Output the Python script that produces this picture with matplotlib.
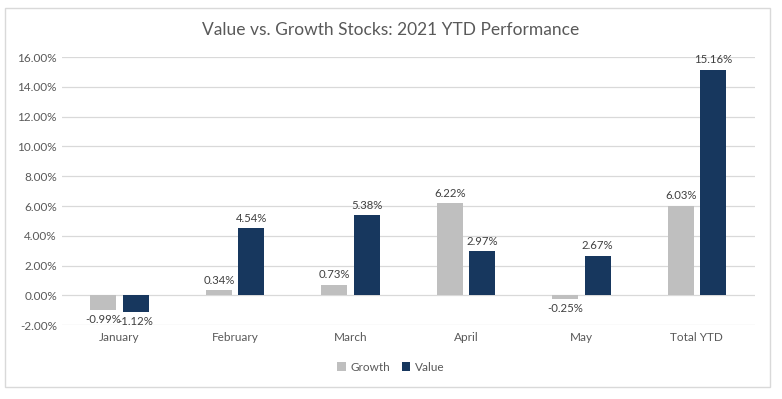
import numpy as np
import matplotlib
matplotlib.use("Agg")
import matplotlib.pyplot as plt
from matplotlib.patches import Rectangle
from matplotlib.ticker import FuncFormatter

# chart data
months = ["January", "February", "March", "April", "May", "Total YTD"]
growth = [-0.99, 0.34, 0.73, 6.22, -0.25, 6.03]
value = [-1.12, 4.54, 5.38, 2.97, 2.67, 15.16]
yticks = [-2, 0, 2, 4, 6, 8, 10, 12, 14, 16]

plt.rcParams['font.family'] = ['Lato', 'DejaVu Sans']
txt = '#595959'

fig = plt.figure(figsize=(7.82, 3.99), dpi=100)
ax = fig.add_axes([0.079, 0.185, 0.886, 0.672])

x = np.arange(len(months))
w = 0.225
b1 = ax.bar(x - 0.14, growth, w, color='#BFBFBF', label='Growth', zorder=3)
b2 = ax.bar(x + 0.14, value, w, color='#17375E', label='Value', zorder=3)

for bars in (b1, b2):
    for r in bars:
        h = r.get_height()
        cx = r.get_x() + r.get_width() / 2
        if h >= 0:
            ax.annotate('%.2f%%' % h, (cx, h), xytext=(0, 3), textcoords='offset points',
                        ha='center', va='bottom', fontsize=8.2, color='#404040')
        else:
            ax.annotate('%.2f%%' % h, (cx, h), xytext=(0, -3), textcoords='offset points',
                        ha='center', va='top', fontsize=8.2, color='#404040')

ax.set_ylim(-2, 16)
ax.set_xlim(-0.5, len(months) - 0.5)
ax.set_yticks(yticks)
ax.yaxis.set_major_formatter(FuncFormatter(lambda v, p: '%.2f%%' % v))
ax.set_xticks(x)
ax.set_xticklabels(months)
ax.tick_params(axis='both', length=0, labelsize=8.5, colors=txt)
ax.tick_params(axis='x', pad=5)
ax.grid(axis='y', color='#D9D9D9', linewidth=0.9, zorder=0)
for s in ax.spines.values():
    s.set_visible(False)

fig.text(0.5, 0.925, 'Value vs. Growth Stocks: 2021 YTD Performance',
         ha='center', va='center', fontsize=12.5, color=txt)

fig.legend(handles=[b1, b2], labels=['Growth', 'Value'], loc='center',
           bbox_to_anchor=(0.5, 0.08), ncol=2, frameon=False, fontsize=8.5,
           labelcolor=txt, handlelength=0.7, handleheight=0.7, handletextpad=0.4,
           columnspacing=1.0)

fig.patches.append(Rectangle((0.007, 0.03), 0.978, 0.95, transform=fig.transFigure,
                             fill=False, edgecolor='#D9D9D9', linewidth=1))

fig.savefig('out.png', dpi=100, facecolor='white')
